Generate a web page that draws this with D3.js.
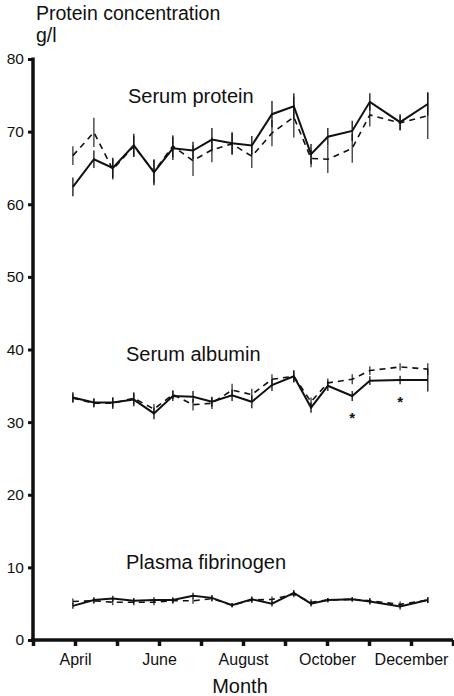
<!DOCTYPE html>
<html>
<head>
<meta charset="utf-8">
<script src="https://cdn.jsdelivr.net/npm/d3@7"></script>
<style>
    body { margin: 0; background: #fff; }
    text { font-family: "Liberation Sans", Arial, sans-serif; fill: #111; }
</style>
</head>
<body>
<script>
'use strict';

// sampling times, in months (4 = April ... 12 = December)
const sampleMonths = [3.95, 4.45, 4.9, 5.4, 5.88, 6.33, 6.81, 7.26, 7.74, 8.21, 8.69, 9.21, 9.62, 10.02, 10.6, 11.02, 11.74, 12.4];

// serum protein g/l
const proteinSolid = [62.4, 66.2, 65.0, 68.1, 64.4, 67.7, 67.4, 68.9, 68.4, 68.1, 72.4, 73.5, 66.9, 69.3, 70.1, 74.1, 71.3, 73.8];
const proteinSolidErr = [1.3, 1.2, 1.4, 1.6, 1.8, 1.6, 1.2, 1.6, 1.5, 1.3, 1.8, 1.8, 1.4, 1.2, 1.4, 1.2, 1.1, 1.6];
const proteinDashed = [66.7, 69.9, 64.8, 68.0, 64.5, 68.0, 66.0, 67.5, 68.3, 66.6, 69.8, 72.0, 66.3, 66.2, 67.7, 72.3, 71.2, 72.2];
const proteinDashedErr = [1.3, 2.0, 1.4, 1.4, 1.6, 1.5, 2.1, 1.7, 1.5, 1.6, 1.8, 2.8, 1.2, 1.9, 2.0, 1.6, 1.0, 3.2];

// serum albumin g/l
const albuminSolid = [33.4, 32.7, 32.7, 33.1, 31.2, 33.6, 33.5, 32.8, 33.7, 32.8, 35.1, 36.3, 32.0, 35.0, 33.6, 35.7, 35.8, 35.8];
const albuminSolidErr = [0.7, 0.6, 0.7, 0.9, 0.8, 0.7, 0.8, 0.7, 0.8, 0.9, 0.8, 0.8, 0.7, 0.7, 0.7, 0.6, 0.6, 1.6];
const albuminDashed = [33.3, 32.6, 32.6, 33.3, 31.8, 33.8, 32.4, 32.6, 34.4, 33.8, 35.9, 36.3, 32.8, 35.4, 35.9, 37.1, 37.6, 37.3];
const albuminDashedErr = [0.6, 0.6, 0.8, 0.8, 0.7, 0.6, 0.8, 0.8, 0.9, 0.8, 0.7, 0.8, 0.6, 0.6, 0.7, 0.6, 0.5, 0.8];
const albuminStars = [14, 16]; // significant differences

// plasma fibrinogen g/l
const fibrinSolid = [4.7, 5.5, 5.7, 5.4, 5.5, 5.5, 6.1, 5.8, 4.8, 5.6, 5.0, 6.5, 5.0, 5.5, 5.6, 5.3, 4.6, 5.5];
const fibrinSolidErr = [0.4, 0.4, 0.4, 0.4, 0.4, 0.4, 0.4, 0.4, 0.3, 0.4, 0.4, 0.4, 0.4, 0.3, 0.3, 0.4, 0.4, 0.4];
const fibrinDashed = [5.3, 5.4, 5.2, 5.2, 5.2, 5.4, 5.4, 5.7, 4.8, 5.5, 5.6, 6.3, 5.2, 5.5, 5.6, 5.4, 4.9, 5.5];
const fibrinDashedErr = [0.4, 0.4, 0.4, 0.4, 0.4, 0.4, 0.4, 0.4, 0.3, 0.4, 0.4, 0.4, 0.4, 0.3, 0.3, 0.4, 0.4, 0.4];

// axes
const monthTicks = [3, 4, 5, 6, 7, 8, 9, 10, 11, 12, 13];
const monthLabels = { 4: "April", 6: "June", 8: "August", 10: "October", 12: "December" };
const yTicks = [0, 10, 20, 30, 40, 50, 60, 70, 80];

const groups = [
    { name: "Serum protein", solid: proteinSolid, solidErr: proteinSolidErr, dashed: proteinDashed, dashedErr: proteinDashedErr, labelX: 128, labelY: 103 },
    { name: "Serum albumin", solid: albuminSolid, solidErr: albuminSolidErr, dashed: albuminDashed, dashedErr: albuminDashedErr, labelX: 126, labelY: 361 },
    { name: "Plasma fibrinogen", solid: fibrinSolid, solidErr: fibrinSolidErr, dashed: fibrinDashed, dashedErr: fibrinDashedErr, labelX: 126, labelY: 569 }
];

(function () {

    let svg = "";

    window.onload = function () {
        svg = d3.select('body')
            .append('svg')
            .attr('width', 454)
            .attr('height', 696);

        let xScale = d3.scaleLinear()
            .domain([3, 13])
            .range([33, 453]);

        let yScale = d3.scaleLinear()
            .domain([0, 80])
            .range([640, 59]);

        drawAxes(xScale, yScale);
        groups.forEach((g) => drawGroup(g, xScale, yScale));
        drawStars(xScale, yScale);
        makeLabels();
    }

    function drawAxes(xScale, yScale) {
        // y axis: thick line, short ticks on the left
        let yAxis = d3.axisLeft(yScale)
            .tickValues(yTicks)
            .tickSize(5)
            .tickPadding(4);
        let gy = svg.append('g')
            .attr('transform', 'translate(33, 0)')
            .call(yAxis);
        gy.select('.domain').remove();
        gy.selectAll('.tick line').attr('stroke', '#111').attr('stroke-width', 3);
        gy.selectAll('.tick text').style('font-size', '15.5px').attr('fill', '#111');
        svg.append('line')
            .attr('x1', 33).attr('x2', 33)
            .attr('y1', yScale(80) - 1.5).attr('y2', yScale(0) + 2)
            .attr('stroke', '#111').attr('stroke-width', 3.5);

        // x axis: thick line, ticks pointing down
        let xAxis = d3.axisBottom(xScale)
            .tickValues(monthTicks)
            .tickSize(6)
            .tickPadding(8)
            .tickFormat((d) => monthLabels[d] || "");
        let gx = svg.append('g')
            .attr('transform', 'translate(0, 640)')
            .call(xAxis);
        gx.select('.domain').remove();
        gx.selectAll('.tick line').attr('stroke', '#111').attr('stroke-width', 3.5);
        gx.selectAll('.tick text').style('font-size', '16px').attr('fill', '#111');
        svg.append('line')
            .attr('x1', 31).attr('x2', 453)
            .attr('y1', 640).attr('y2', 640)
            .attr('stroke', '#111').attr('stroke-width', 3.5);
    }

    function drawGroup(g, xScale, yScale) {
        let line = d3.line()
            .x((d) => xScale(d.m))
            .y((d) => yScale(d.v));

        let solid = sampleMonths.map((m, i) => ({ m: m, v: g.solid[i], e: g.solidErr[i] }));
        let dashed = sampleMonths.map((m, i) => ({ m: m, v: g.dashed[i], e: g.dashedErr[i] }));

        // error bars, no caps
        [solid, dashed].forEach((pts, k) => {
            svg.append('g').selectAll('line')
                .data(pts)
                .enter()
                .append('line')
                .attr('x1', (d) => xScale(d.m))
                .attr('x2', (d) => xScale(d.m))
                .attr('y1', (d) => yScale(d.v + d.e))
                .attr('y2', (d) => yScale(d.v - d.e))
                .attr('stroke', '#111')
                .attr('stroke-width', k == 0 ? 1.3 : 1.1);
        });

        svg.append('path')
            .datum(dashed)
            .attr('d', line)
            .attr('fill', 'none')
            .attr('stroke', '#111')
            .attr('stroke-width', 1.6)
            .attr('stroke-dasharray', '6,5');

        svg.append('path')
            .datum(solid)
            .attr('d', line)
            .attr('fill', 'none')
            .attr('stroke', '#111')
            .attr('stroke-width', 2);

        svg.append('text')
            .attr('x', g.labelX)
            .attr('y', g.labelY)
            .style('font-size', '20px')
            .text(g.name);
    }

    function drawStars(xScale, yScale) {
        svg.selectAll('.star')
            .data(albuminStars)
            .enter()
            .append('text')
            .attr('class', 'star')
            .attr('x', (i) => xScale(sampleMonths[i]))
            .attr('y', (i) => yScale(albuminSolid[i]) + 27)
            .attr('text-anchor', 'middle')
            .style('font-size', '15px')
            .style('font-weight', 'bold')
            .text('*');
    }

    function makeLabels() {
        // two-line y axis title
        svg.append('text')
            .attr('x', 36)
            .attr('y', 20)
            .style('font-size', '19.5px')
            .text('Protein concentration');

        svg.append('text')
            .attr('x', 36)
            .attr('y', 42)
            .style('font-size', '19.5px')
            .text('g/l');

        svg.append('text')
            .attr('x', 240)
            .attr('y', 693)
            .attr('text-anchor', 'middle')
            .style('font-size', '20px')
            .text('Month');
    }

})();
</script>
</body>
</html>
